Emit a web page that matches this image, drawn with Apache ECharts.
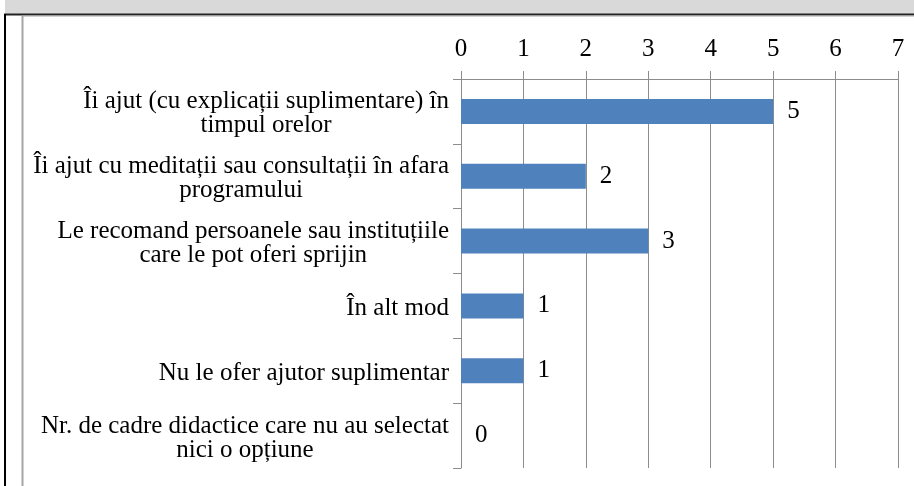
<!DOCTYPE html>
<html>
<head>
<meta charset="utf-8">
<script src="https://cdn.jsdelivr.net/npm/echarts@6/dist/echarts.min.js"></script>
<style>
html,body{margin:0;padding:0;background:#fff;}
#c{width:914px;height:486px;}
</style>
</head>
<body>
<div id="c"></div>
<script>
var categories = [
  "Îi ajut (cu explicații suplimentare) în\ntimpul orelor",
  "Îi ajut cu meditații sau consultații în afara\nprogramului",
  "Le recomand persoanele sau instituțiile\ncare le pot oferi sprijin",
  "În alt mod",
  "Nu le ofer ajutor suplimentar",
  "Nr. de cadre didactice care nu au selectat\nnici o opțiune"
];
var values = [5, 2, 3, 1, 1, 0];
var xTicks = [0, 1, 2, 3, 4, 5, 6, 7];

var FONT = "'Liberation Serif', 'Times New Roman', serif";
var FS = 25;
var chart = echarts.init(document.getElementById('c'));
chart.setOption({
  animation: false,
  backgroundColor: '#ffffff',
  graphic: [
    { type: 'rect', shape: { x: 5, y: 0, width: 909, height: 14 }, style: { fill: '#d9d9d9' }, silent: true },
    { type: 'line', shape: { x1: 4, y1: 14.5, x2: 914, y2: 14.5 }, style: { stroke: '#222', lineWidth: 2 }, silent: true },
    { type: 'line', shape: { x1: 5, y1: 14, x2: 5, y2: 486 }, style: { stroke: '#000', lineWidth: 2 }, silent: true },
    { type: 'line', shape: { x1: 22, y1: 16, x2: 914, y2: 16 }, style: { stroke: '#a6a6a6', lineWidth: 1 }, silent: true },
    { type: 'line', shape: { x1: 22.5, y1: 16, x2: 22.5, y2: 486 }, style: { stroke: '#a6a6a6', lineWidth: 2 }, silent: true }
  ],
  grid: { left: 461, right: 16, top: 79, bottom: 18, containLabel: false },
  xAxis: {
    type: 'value',
    position: 'top',
    min: xTicks[0],
    max: xTicks[xTicks.length - 1],
    interval: 1,
    axisLine: { show: true, lineStyle: { color: '#8c8c8c', width: 1 } },
    axisTick: { show: true, length: 8, lineStyle: { color: '#8c8c8c' } },
    splitLine: { show: true, lineStyle: { color: '#8c8c8c', width: 1 } },
    axisLabel: { fontSize: FS, fontFamily: FONT, color: '#000', margin: 17 }
  },
  yAxis: {
    type: 'category',
    inverse: true,
    data: categories,
    axisLine: { show: true, lineStyle: { color: '#8c8c8c', width: 1 } },
    axisTick: { show: true, length: 8, lineStyle: { color: '#8c8c8c' } },
    axisLabel: {
      margin: 12,
      align: 'right',
      fontSize: FS,
      fontFamily: FONT,
      color: '#000',
      lineHeight: 24,
      padding: [5, 0, 0, 0],
      formatter: function (v) {
        return v.split('\n').map(function (s) { return '{c|' + s + '}'; }).join('\n');
      },
      rich: { c: { align: 'center', fontSize: FS, fontFamily: FONT, color: '#000', lineHeight: 24 } }
    }
  },
  series: [{
    type: 'bar',
    data: values,
    barWidth: 25,
    itemStyle: { color: '#4f81bd' },
    label: { show: true, position: 'right', distance: 14, fontSize: FS, fontFamily: FONT, color: '#000' }
  }]
});
</script>
</body>
</html>
